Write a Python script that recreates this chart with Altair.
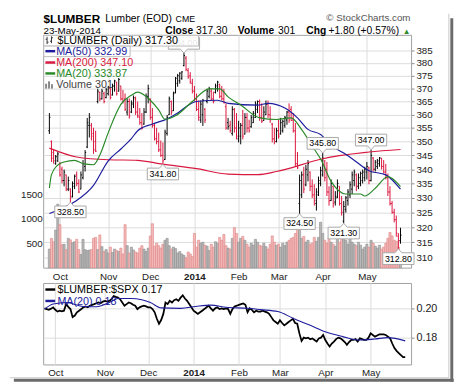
import altair as alt
import pandas as pd

FONT = "Liberation Sans"

# ---------------- data ----------------
month_days = [5, 28, 48, 69, 90, 109, 130, 151]          # trading-day index of first bar of each month
month_labels = ["Oct", "Nov", "Dec", "2014", "Feb", "Mar", "Apr", "May"]

highs = [
    360.6, 350.4, 347.0, 345.1, 346.2, 342.6, 340.9, 339.9, 338.1, 337.4,
    333.3, 335.7, 338.1, 339.2, 336.4, 339.2, 343.3, 346.9, 358.8, 360.6,
    356.9, 355.1, 354.0, 369.9, 368.8, 369.9, 368.8, 370.3,
    371.0, 370.3, 371.9, 373.4, 372.6, 374.1, 371.0, 369.5, 368.1, 366.2,
    366.2, 365.4, 367.3, 366.9, 365.0, 362.5, 360.6, 362.5, 368.1, 371.5,
    366.2, 362.5, 356.9, 355.1, 353.3, 350.4, 349.7, 354.4, 359.9, 366.9,
    365.4, 368.8, 374.5, 375.7, 376.4, 376.8, 384.0, 382.8, 378.0, 376.4, 373.8,
    371.0, 368.1, 365.4, 365.4, 366.0, 362.5, 369.9, 370.7, 369.9, 368.8,
    371.9, 373.0, 371.9, 371.0, 369.9, 364.3, 358.8, 357.7, 363.2, 362.5, 360.6,
    357.7, 356.9, 361.8, 360.6, 360.6, 358.1, 359.9, 361.4, 365.1, 365.4,
    365.8, 364.3, 363.2, 365.4, 365.4, 363.2, 356.9, 355.1, 355.1,
    358.1, 358.8, 358.1, 359.5, 361.4, 364.3, 363.2, 360.6, 356.9, 346.2,
    338.1, 339.2, 340.9, 341.6, 343.3, 339.2, 336.4, 334.7, 333.3, 337.4, 340.9,
    345.8, 343.3, 342.6, 334.0, 336.4, 334.0, 332.3, 336.4, 334.0, 330.6,
    328.9, 330.6, 333.0, 335.7, 339.2, 339.9, 338.5, 338.5, 339.2, 339.9, 340.9,
    342.6, 340.9, 347.0, 344.4, 343.3, 343.7, 344.4, 344.0, 343.3, 341.9,
    338.5, 334.0, 328.9, 326.2, 323.9, 318.0, 319.8,
]
lows = [
    352.8, 342.6, 342.0, 341.6, 342.6, 337.4, 335.0, 334.0, 332.3, 332.3,
    328.5, 330.1, 333.0, 334.0, 331.6, 333.0, 336.4, 339.2, 347.6, 351.5,
    350.4, 345.5, 346.2, 364.3, 365.1, 365.8, 364.3, 366.2,
    367.3, 365.8, 367.3, 368.8, 367.3, 368.8, 365.4, 364.3, 361.4, 359.7,
    358.5, 360.6, 362.5, 359.9, 358.8, 356.2, 354.4, 356.2, 360.6, 364.3,
    358.1, 355.1, 350.4, 349.0, 346.2, 344.4, 341.8, 343.3, 352.2, 359.9,
    359.9, 361.4, 368.1, 370.7, 371.9, 373.4, 378.7, 376.8, 373.8, 371.9, 368.1,
    365.1, 361.4, 357.7, 356.9, 355.8, 356.9, 364.3, 366.2, 365.4, 364.3,
    368.1, 368.8, 366.2, 365.4, 364.3, 354.4, 354.4, 353.3, 352.2, 353.3, 350.8,
    349.7, 349.0, 350.8, 352.6, 353.3, 353.3, 355.1, 356.9, 358.8, 360.6,
    357.7, 356.9, 357.7, 359.9, 358.8, 356.9, 349.7, 349.0, 349.7,
    351.1, 352.6, 353.3, 355.1, 356.2, 356.9, 357.7, 353.3, 340.9, 340.1,
    324.5, 329.9, 331.6, 334.0, 335.7, 332.3, 329.9, 327.3, 325.6, 330.6, 334.0,
    337.4, 335.7, 330.6, 327.3, 328.9, 326.6, 327.3, 329.9, 327.3, 323.9,
    321.3, 324.9, 327.3, 329.9, 331.3, 334.0, 332.3, 333.0, 334.0, 335.0, 335.7,
    336.4, 334.7, 335.7, 339.2, 339.2, 340.1, 340.9, 339.9, 338.5, 336.4,
    330.6, 327.3, 324.5, 321.6, 316.8, 312.8, 314.5,
]
opens = [
    354.0, 350.0, 346.0, 342.0, 343.0, 342.0, 340.0, 336.0, 338.0, 333.0,
    333.0, 330.5, 334.0, 338.0, 335.0, 333.0, 337.0, 341.0, 348.0, 356.0,
    356.0, 353.0, 350.0, 365.0, 368.5, 366.0, 368.0, 366.5,
    368.0, 370.0, 367.5, 371.0, 372.5, 369.0, 371.0, 366.0, 366.0, 361.0,
    365.0, 361.0, 364.0, 366.0, 361.0, 359.0, 357.0, 356.5, 361.0, 367.0,
    366.0, 359.0, 356.0, 351.0, 350.0, 347.0, 345.0, 343.5, 353.0, 360.0,
    365.0, 361.5, 368.5, 372.0, 373.0, 374.0, 379.0, 382.0, 377.0, 375.0, 372.0,
    369.0, 366.0, 362.0, 358.0, 360.0, 362.0, 365.0, 367.0, 369.0, 366.0,
    368.5, 370.0, 371.5, 367.0, 366.0, 363.0, 357.0, 356.0, 353.0, 362.0, 355.0,
    351.0, 352.0, 356.0, 352.8, 359.0, 355.0, 355.5, 357.0, 359.0, 362.0,
    365.0, 359.0, 357.8, 360.0, 364.0, 360.0, 356.5, 351.0, 350.0,
    354.0, 352.8, 354.0, 356.0, 358.0, 361.0, 362.0, 358.0, 354.0, 342.0,
    328.0, 331.0, 338.0, 334.5, 338.0, 339.0, 334.0, 331.0, 328.0, 331.0, 335.0,
    338.0, 343.0, 340.0, 332.0, 329.0, 334.0, 328.5, 330.0, 334.0, 328.0,
    322.0, 326.0, 329.0, 331.0, 333.0, 336.0, 338.0, 334.0, 335.0, 336.0, 337.0,
    339.0, 340.5, 336.0, 344.0, 340.0, 341.0, 342.0, 344.0, 341.0, 339.0,
    337.0, 332.0, 328.0, 325.0, 322.5, 317.0, 315.5,
]
closes = [
    359.0, 344.0, 343.0, 344.5, 345.5, 338.0, 336.0, 339.0, 333.0, 336.0,
    330.0, 335.0, 337.5, 335.0, 332.0, 338.0, 342.0, 346.0, 357.0, 359.0,
    352.0, 347.0, 346.5, 369.0, 366.0, 369.0, 365.0, 369.5,
    370.5, 366.5, 371.0, 373.0, 368.0, 373.5, 366.0, 365.0, 362.0, 365.0,
    359.5, 364.5, 366.5, 361.0, 359.5, 357.0, 355.0, 361.0, 367.0, 370.0,
    359.0, 356.0, 351.0, 350.0, 347.0, 345.0, 343.0, 353.5, 359.0, 366.0,
    361.0, 368.0, 374.0, 375.0, 376.0, 376.5, 383.0, 377.5, 374.5, 372.5, 369.0,
    366.0, 362.0, 359.0, 364.0, 365.5, 358.0, 369.0, 370.0, 366.0, 365.0,
    371.0, 372.5, 367.0, 366.0, 364.5, 355.0, 355.5, 354.0, 362.0, 355.0, 352.0,
    355.0, 356.0, 352.0, 359.0, 355.0, 354.0, 359.0, 360.5, 364.0, 365.0,
    359.0, 357.5, 361.0, 364.0, 360.0, 358.0, 351.0, 350.0, 354.0,
    352.0, 357.0, 357.5, 359.0, 361.0, 358.0, 357.8, 354.0, 342.0, 340.5,
    336.0, 338.0, 333.0, 340.0, 342.0, 334.0, 331.0, 329.0, 332.0, 336.0, 339.5,
    344.0, 337.0, 332.0, 329.0, 335.0, 328.0, 330.5, 335.0, 328.0, 325.0,
    327.0, 330.0, 332.0, 334.5, 338.0, 339.0, 334.0, 337.0, 338.5, 339.0, 340.0,
    341.0, 336.0, 345.0, 340.0, 342.5, 343.0, 344.0, 341.0, 339.0, 337.0,
    332.0, 328.0, 325.0, 322.5, 318.0, 315.5, 317.3,
]
# k = black (up) bar, r = red (down) bar
bar_dir = ("krrkkrrkrkrkkrrkkkkkrrrkrkrk" "krkkrkrrrkrkkrrrrkkk" "rrrrrrrkkkrkkkkkkrrrr"
           "rrrkkrkkrrkkrrrrkrkrr" "kkrkrrkkkkrrkkrrrrk" "rkkkkrrrrrkkrkkrrrkkk"
           "krrrkrkkrrkkkkkkrkkkk" "krkrkkkrrrrrrrrrk")
volumes = [
    380, 600, 530, 770, 1300, 880, 470, 480, 370, 600, 570, 510, 530, 580, 370, 270, 580, 370, 350, 360,
    370, 600, 620, 370, 670, 430, 330, 370,
    300, 420, 310, 380, 350, 330, 400, 280, 880, 450, 300, 420, 360, 320, 300, 400, 450, 380, 330, 400,
    650, 900, 440, 500, 450, 400, 480, 560, 600, 450, 380, 420, 390, 300, 330, 280, 250, 200, 320, 280, 230,
    700, 420, 560, 500, 520, 460, 440, 350, 480, 420, 530, 500, 620, 560, 680, 450, 400, 380, 600, 820, 700,
    520, 600, 640, 560, 480, 420, 500, 460, 580, 520, 460, 440, 500, 430, 380, 480, 650, 520, 460,
    480, 420, 500, 450, 520, 560, 600, 620, 700, 820, 760, 600, 640, 520, 560, 480, 500, 620, 540, 620, 930,
    700, 560, 500, 620, 520, 480, 440, 600, 520, 640, 700, 560, 480, 600, 520, 480, 450, 520, 460, 380, 420,
    480, 420, 560, 500, 440, 400, 460, 380, 420, 500, 600, 720, 650, 560, 540, 420, 301,
]

ma20_day = [0, 1, 4, 7, 12, 16, 21, 24, 28, 34, 39, 42, 48, 52, 55, 60, 68, 76, 81, 85,
            91, 100, 108, 115, 120, 126, 129, 134, 141, 148, 150, 155, 161, 167]
ma20_val = [333.4, 338.1, 341.5, 342.6, 343.2, 342.0, 341.6, 345.1, 353.3, 363.9,
            367.4, 368.6, 365.5, 361.8, 358.3, 359.6, 365.0, 369.9, 369.9, 366.8,
            363.7, 358.8, 358.2, 358.8, 354.4, 347.2, 343.7, 335.7, 331.3, 331.3,
            330.6, 333.3, 337.4, 333.87]
ma50_day = [0, 12, 21, 28, 34, 39, 42, 49, 56, 61, 66, 70, 80, 85, 99, 104, 112, 118,
            123, 129, 134, 140, 144, 152, 160, 167]
ma50_val = [324.6, 328.6, 334.3, 343.0, 347.3, 351.1, 354.0, 356.5, 358.4, 360.6,
            363.6, 365.0, 365.5, 364.3, 363.6, 364.3, 362.5, 358.8, 354.5, 352.6,
            348.6, 345.8, 343.8, 339.5, 338.0, 332.99]
ma200_day = [0, 13, 28, 42, 53, 70, 85, 99, 108, 115, 124, 129, 152, 167]
ma200_val = [347.6, 344.4, 343.4, 343.2, 341.9, 340.2, 338.3, 338.1, 339.2, 340.5,
             342.6, 343.6, 346.2, 347.10]

ann_day = [10, 54, 64, 119, 130, 140, 153, 166]
ann_val = [328.50, 341.80, 384.00, 324.50, 345.80, 321.30, 347.00, 312.80]
ann_side = ["below", "below", "above", "below", "above", "below", "above", "below"]

ratio = [
    0.2000, 0.1995, 0.1990, 0.1998, 0.2007, 0.1990, 0.1978, 0.1984, 0.1980, 0.1984,
    0.2029, 0.2010, 0.1995, 0.1940, 0.1951, 0.1973, 0.1984, 0.1995, 0.2007, 0.2013,
    0.2007, 0.2018, 0.2024, 0.2029, 0.2035, 0.2040, 0.2035, 0.2046, 0.2051, 0.2046,
    0.2051, 0.2062, 0.2084, 0.2078, 0.2073, 0.2062, 0.2040, 0.2018, 0.2029, 0.2040,
    0.2035, 0.2024, 0.2018, 0.1995, 0.2007, 0.2013, 0.2018, 0.2013, 0.2007, 0.2007,
    0.1995, 0.1973, 0.1929, 0.1895, 0.1920, 0.1962, 0.2040, 0.2029, 0.2051, 0.2040,
    0.2056, 0.2062, 0.2051, 0.2073, 0.2089, 0.2067, 0.2051, 0.2029, 0.2007, 0.1984,
    0.1973, 0.1962, 0.1973, 0.1984, 0.1995, 0.2007, 0.2018, 0.2000, 0.1984, 0.2000,
    0.2007, 0.1995, 0.2000, 0.1995, 0.2000, 0.1995, 0.1962, 0.1995, 0.2013, 0.2018,
    0.2024, 0.2029, 0.2033, 0.2024, 0.1973, 0.2000, 0.1990, 0.1973, 0.1984, 0.1978,
    0.1978, 0.1984, 0.1978, 0.1973, 0.1962, 0.1940, 0.1918, 0.1907, 0.1895, 0.1918,
    0.1900, 0.1884, 0.1895, 0.1907, 0.1918, 0.1929, 0.1900, 0.1895, 0.1829, 0.1778,
    0.1800, 0.1795, 0.1800, 0.1789, 0.1795, 0.1784, 0.1773, 0.1795, 0.1800, 0.1818,
    0.1784, 0.1760, 0.1740, 0.1760, 0.1773, 0.1790, 0.1800, 0.1795, 0.1784, 0.1770,
    0.1751, 0.1770, 0.1784, 0.1784, 0.1790, 0.1773, 0.1795, 0.1790, 0.1784, 0.1784,
    0.1800, 0.1829, 0.1818, 0.1807, 0.1815, 0.1822, 0.1822, 0.1822, 0.1818, 0.1807,
    0.1795, 0.1760, 0.1729, 0.1710, 0.1695, 0.1680, 0.1667, 0.1667,
]
rma_day = [0, 4, 10, 18, 24, 30, 34, 40, 45, 49, 54, 63, 70, 77, 84, 94, 100, 108,
           115, 123, 130, 138, 145, 153, 159, 167]
rma_val = [0.1995, 0.2029, 0.2040, 0.2013, 0.2011, 0.2040, 0.2067, 0.2067, 0.2058, 0.2040,
           0.2003, 0.2000, 0.2013, 0.2022, 0.2007, 0.2000, 0.1991, 0.1978, 0.1933, 0.1884,
           0.1840, 0.1807, 0.1784, 0.1791, 0.1800, 0.1778]

# ---------------- tables ----------------
n = len(closes)
bars = pd.DataFrame({
    "day": list(range(n)), "high": highs, "low": lows, "open": opens, "close": closes,
    "vol": volumes, "dir": ["up" if c == "k" else "down" for c in bar_dir],
})
ann = pd.DataFrame({"day": ann_day, "val": ann_val, "side": ann_side,
                    "label": [f"{v:.2f}" for v in ann_val]})
ratio_df = pd.DataFrame({"day": list(range(n)), "ratio": ratio})
rma_df = pd.DataFrame({"day": rma_day, "val": rma_val})
one = pd.DataFrame({"k": [0]})

# ---------------- styling ----------------
UP, DOWN = "#000000", "#dc143c"
BLUE, GREEN = "#1c1c9c", "#2a8a2a"
GRID = "#dcdcdc"
W, H1, H2 = 376.6, 238.3, 83.4

xs = alt.Scale(domain=[-0.63, 169.7], nice=False, zero=False)
ps = alt.Scale(type="log", domain=[306.7, 391.4], nice=False)
vs = alt.Scale(domain=[0, 4766], nice=False)
rs = alt.Scale(domain=[0.1617, 0.2173], nice=False, zero=False)

label_expr = " : ".join(f"datum.value == {d} ? '{l}'" for d, l in zip(month_days, month_labels)) + " : ''"
bold_cond = {"condition": {"test": f"datum.value == {month_days[3]}", "value": "bold"}, "value": "normal"}


def x_axis(pad):
    return alt.Axis(values=month_days, labelExpr=label_expr, grid=True, gridColor=GRID,
                    ticks=False, domain=False, labelPadding=pad, labelFontWeight=bold_cond,
                    title=None, labelFlush=False, labelOverlap=False, labelColor="#222",
                    labelFontSize=10)


XT = alt.X("day:Q", scale=xs, axis=x_axis(4))
p_axis = alt.Axis(orient="right", values=list(range(310, 390, 5)), grid=True, gridColor=GRID,
                  tickSize=3, tickColor="#888", domain=False, labelPadding=2, title=None,
                  labelColor="#222", labelFontSize=10)
pcolor = alt.condition("datum.dir == 'up'", alt.value(UP), alt.value(DOWN))


def label(text, x, y, size=11, color="#000", weight="normal", align="left", baseline="middle"):
    return alt.Chart(one).mark_text(text=text, font=FONT, fontSize=size, color=color,
                                    fontWeight=weight, align=align, baseline=baseline).encode(
        x=alt.value(x), y=alt.value(y))


def seg(x1, y1, x2, y2, color, width=1.0):
    return alt.Chart(one).mark_rule(color=color, strokeWidth=width).encode(
        x=alt.value(x1), y=alt.value(y1), x2=alt.value(x2), y2=alt.value(y2))


def box(x1, y1, x2, y2, stroke="#bbbbbb", opacity=0.9):
    return alt.Chart(one).mark_rect(fill="white", fillOpacity=opacity, stroke=stroke,
                                    strokeWidth=1).encode(
        x=alt.value(x1), x2=alt.value(x2), y=alt.value(y1), y2=alt.value(y2))


# ---------------- top panel ----------------
vol = alt.Chart(bars).mark_bar(size=2.2, strokeWidth=0.6).encode(
    x=XT,
    y=alt.Y("vol:Q", scale=vs, axis=alt.Axis(orient="left", values=[500, 1000, 1500], grid=False,
                                              ticks=False, domain=False, labelPadding=1, format="d",
                                              title=None, labelColor="#222", labelFontSize=10)),
    fill=alt.condition("datum.dir == 'up'", alt.value("#b8b8b8"), alt.value("#f3b9b9")),
    stroke=alt.condition("datum.dir == 'up'", alt.value("#8c8c8c"), alt.value("#e08585")),
)

hl = alt.Chart(bars).mark_rule(strokeWidth=1).encode(
    x=XT, y=alt.Y("low:Q", scale=ps, axis=p_axis), y2="high:Q", color=pcolor)
op = alt.Chart(bars).transform_calculate(d0="datum.day - 0.5").mark_rule(strokeWidth=1).encode(
    x=alt.X("d0:Q", scale=xs, axis=x_axis(4)), x2="day:Q",
    y=alt.Y("open:Q", scale=ps, axis=p_axis), color=pcolor)
cl = alt.Chart(bars).transform_calculate(d1="datum.day + 0.5").mark_rule(strokeWidth=1).encode(
    x=XT, x2="d1:Q", y=alt.Y("close:Q", scale=ps, axis=p_axis), color=pcolor)


def ma_line(days, vals, color):
    df = pd.DataFrame({"day": days, "val": vals})
    return alt.Chart(df).mark_line(color=color, strokeWidth=1.2, interpolate="monotone").encode(
        x=XT, y=alt.Y("val:Q", scale=ps, axis=p_axis))


BELOW = "M0,0L0.35,0.4L1.6,0.4L1.6,1.6L-1.6,1.6L-1.6,0.4L-0.35,0.4Z"
ABOVE = "M0,0L0.35,-0.4L1.6,-0.4L1.6,-1.6L-1.6,-1.6L-1.6,-0.4L-0.35,-0.4Z"


def ann_layers(side, path, dy):
    sub = ann[ann["side"] == side]
    enc = dict(x=XT, y=alt.Y("val:Q", scale=ps, axis=p_axis))
    bx = alt.Chart(sub).mark_point(shape=path, size=400, filled=True, fill="white",
                                   stroke="#a8a8a8", strokeWidth=1, opacity=1).encode(**enc)
    tx = alt.Chart(sub).mark_text(dy=dy, font=FONT, fontSize=9, color="#000",
                                  baseline="middle").encode(text="label:N", **enc)
    return [bx, tx]


price = alt.layer(hl, op, cl,
                  ma_line(ma200_day, ma200_val, "#d81a40"),
                  ma_line(ma50_day, ma50_val, BLUE),
                  ma_line(ma20_day, ma20_val, GREEN),
                  *ann_layers("below", BELOW, 10), *ann_layers("above", ABOVE, -10))

legend_top = [
    box(0.6, 0.5, 159, 11.5), box(0.6, 11.5, 89, 22.3),
    seg(4, 2, 4, 9.5, "#333"), seg(2.5, 4.5, 4, 4.5, "#333"), seg(4, 7.5, 5.5, 7.5, "#333"),
    seg(8.5, 1.5, 8.5, 8.5, "#333"), seg(7, 6.5, 8.5, 6.5, "#333"), seg(8.5, 3, 10, 3, "#333"),
    label("$LUMBER (Daily) 317.30", 14.6, 6.5),
    seg(2.3, 16.7, 12.3, 16.7, BLUE, 2.5), label("MA(50) 332.99", 13.3, 17.9, color=BLUE),
    seg(2.3, 28.3, 12.3, 28.3, "#d81a40", 2.5), label("MA(200) 347.10", 13.3, 29.3, color="#d81a40"),
    seg(2.3, 39.5, 12.3, 39.5, GREEN, 2.5), label("MA(20) 333.87", 13.3, 40.5, color=GREEN),
    seg(3, 55, 3, 50, "#888", 2), seg(6, 55, 6, 47.5, "#888", 2), seg(9, 55, 9, 50.5, "#888", 2),
    label("Volume 301", 13.3, 51.5, color="#444"),
]

header = [
    label("$LUMBER", 0.3, -12, size=12, weight="bold", baseline="alphabetic"),
    label("Lumber (EOD)", 63.5, -13, size=10.5, baseline="alphabetic"),
    label("CME", 135.5, -13, size=9, baseline="alphabetic"),
    label("© StockCharts.com", 376, -14, size=10, color="#555", align="right", baseline="alphabetic"),
    label("23-May-2014", 0.3, -0.5, size=10, baseline="alphabetic"),
    label("Close", 125, -0.5, size=10.5, weight="bold", baseline="alphabetic"),
    label("317.30", 156.5, -0.5, size=10.5, baseline="alphabetic"),
    label("Volume", 199.3, -0.5, size=10.5, weight="bold", baseline="alphabetic"),
    label("301", 240.5, -0.5, size=10.5, baseline="alphabetic"),
    label("Chg", 269.3, -0.5, size=10.5, weight="bold", baseline="alphabetic"),
    label("+1.80 (+0.57%)", 292, -0.5, size=10.5, baseline="alphabetic"),
    label("▲", 372, -1, size=8, color="#2e8b2e", align="center", baseline="alphabetic"),
]

frame = [
    seg(-34.2, -21.5, -30, -21.5, "white", 1),
    seg(-34.2, 351, 415.3, 351, "#c8c8c8", 1),
    seg(415.3, -21.5, 415.3, 351, "#c8c8c8", 1),
    seg(-30, 353.5, 420.3, 353.5, "#6b6b6b", 3),
    seg(418.3, -17, 418.3, 355, "#6b6b6b", 3),
]

top = alt.layer(vol, price, *legend_top, *header, *frame).resolve_scale(
    y="independent").properties(width=W, height=H1)

# ---------------- bottom panel ----------------
XB = alt.X("day:Q", scale=xs, axis=x_axis(3))
r_axis = alt.Axis(orient="right", values=[0.18, 0.20], format=".2f", grid=True, gridColor=GRID,
                  tickSize=3, tickColor="#888", domain=False, labelPadding=2, title=None,
                  labelColor="#222", labelFontSize=11)
rline = alt.Chart(ratio_df).mark_line(color="#000", strokeWidth=1.8).encode(
    x=XB, y=alt.Y("ratio:Q", scale=rs, axis=r_axis))
rma = alt.Chart(rma_df).mark_line(color=BLUE, strokeWidth=1.1, interpolate="monotone").encode(
    x=XB, y=alt.Y("val:Q", scale=rs, axis=r_axis))
legend_bot = [
    seg(2.3, 6.7, 12.3, 6.7, "#000", 2.5), label("$LUMBER:$SPX 0.17", 14.6, 7.7),
    seg(2.3, 18.4, 12.3, 18.4, BLUE, 2.5), label("MA(20) 0.18", 14.6, 19.4, color=BLUE),
]
bottom = alt.layer(rline, rma, *legend_bot).properties(width=W, height=H2)

chart = alt.vconcat(top, bottom, spacing=15, bounds="flush").properties(
    padding=0, background="white"
).configure_view(stroke="#a0a0a0", strokeWidth=1).configure_axis(labelFont=FONT)

chart.save("out.html", embed_options={"renderer": "svg", "actions": False})
